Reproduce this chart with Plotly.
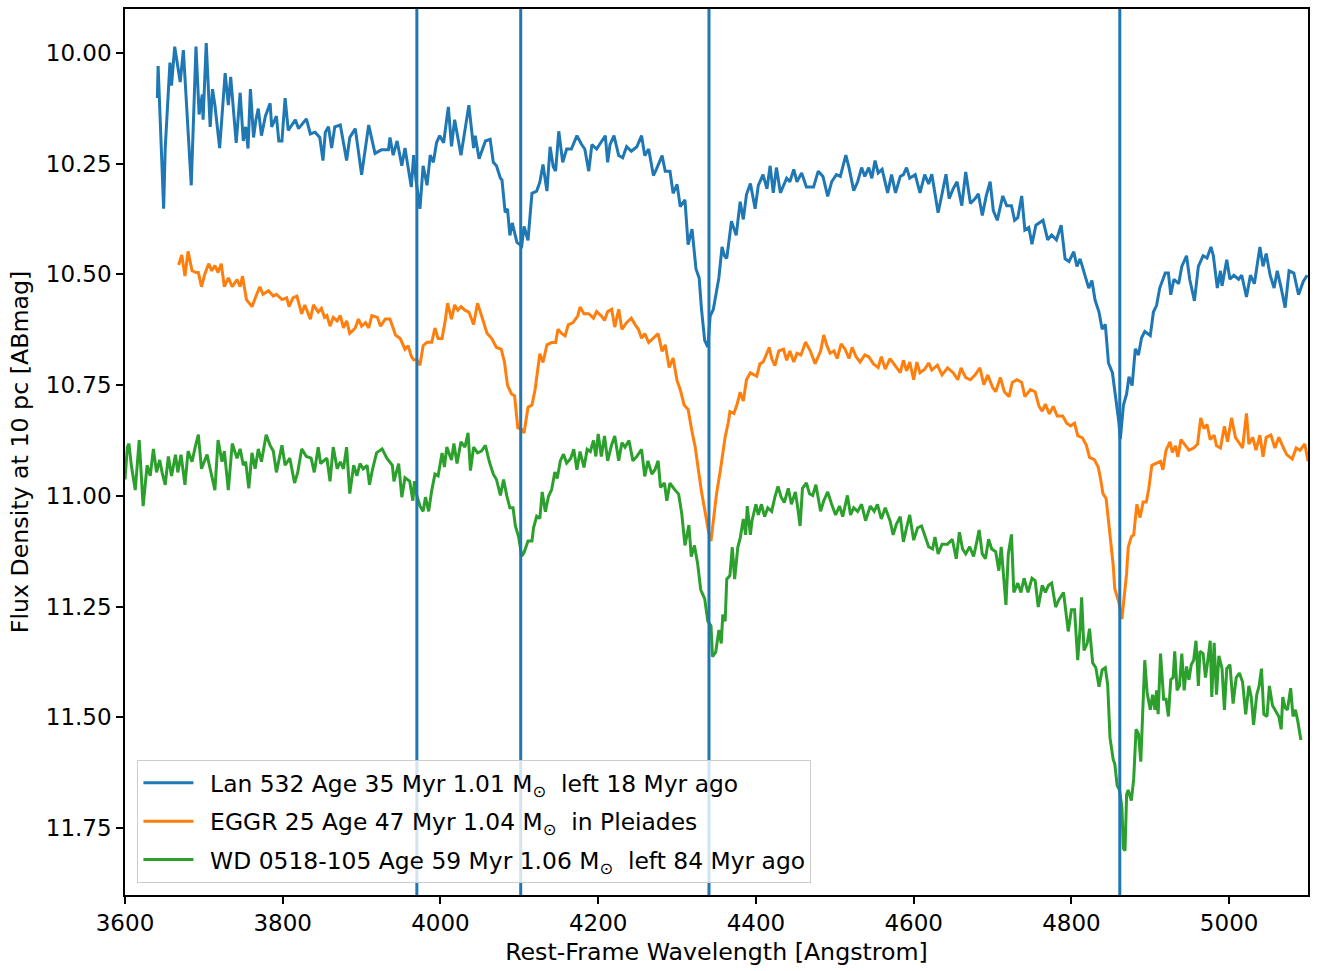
import plotly.graph_objects as go

# ---- data ----
lan532_wave = [3641,3642,3649,3651,3657,3659,3663,3670,3674,3684,3690,3694,3698,3699,3703,3708,3711,3714,3720,3727,
 3731,3734,3741,3746,3750,3753,3756,3759,3763,3766,3769,3773,3778,3784,3786,3792,3795,3799,3803,3807,
 3816,3820,3830,3835,3841,3847,3851,3854,3858,3862,3866,3873,3881,3885,3892,3900,3909,3917,3925,3934,
 3936,3940,3945,3951,3955,3959,3963,3966,3969,3974,3978,3983,3987,3991,3995,3999,4004,4010,4014,4018,
 4026,4031,4036,4042,4044,4049,4057,4063,4067,4071,4076,4078,4082,4085,4088,4091,4097,4103,4106,4111,
 4116,4122,4126,4130,4135,4139,4143,4146,4150,4155,4160,4166,4173,4179,4183,4188,4192,4198,4202,4209,
 4212,4215,4220,4226,4231,4236,4242,4249,4255,4259,4264,4270,4274,4281,4285,4291,4295,4300,4304,4310,
 4314,4319,4324,4328,4331,4335,4339,4342,4346,4350,4353,4357,4360,4363,4369,4375,4380,4384,4388,4393,
 4399,4403,4409,4414,4418,4422,4426,4431,4439,4443,4448,4452,4458,4464,4473,4479,4485,4491,4496,4502,
 4507,4514,4518,4524,4529,4534,4538,4543,4547,4551,4555,4560,4567,4572,4577,4583,4587,4591,4595,4602,
 4608,4614,4619,4623,4631,4636,4641,4645,4650,4655,4661,4666,4672,4678,4682,4687,4692,4697,4701,4706,
 4713,4718,4724,4728,4732,4737,4741,4746,4750,4755,4760,4764,4770,4775,4781,4787,4792,4797,4803,4807,
 4811,4817,4822,4826,4830,4835,4839,4843,4847,4852,4856,4860,4862,4866,4870,4873,4877,4881,4885,4889,
 4893,4900,4904,4908,4912,4919,4923,4926,4930,4936,4940,4946,4950,4956,4961,4967,4972,4977,4980,4985,
 4989,4991,4997,5001,5006,5012,5016,5022,5027,5032,5039,5043,5047,5052,5057,5061,5066,5071,5076,5082,
 5088,5094,5099]
lan532_mag = [10.102,10.030,10.352,10.215,10.022,10.074,9.986,10.066,9.994,10.299,9.986,10.139,10.094,10.151,9.978,10.167,10.082,10.118,10.215,10.046,
 10.118,10.054,10.203,10.090,10.199,10.167,10.216,10.082,10.191,10.151,10.126,10.187,10.143,10.114,10.167,10.143,10.199,10.199,10.102,10.175,
 10.151,10.171,10.149,10.183,10.179,10.191,10.243,10.179,10.167,10.215,10.167,10.163,10.243,10.191,10.171,10.275,10.163,10.227,10.219,10.219,
 10.191,10.231,10.199,10.255,10.215,10.255,10.303,10.231,10.287,10.352,10.255,10.299,10.231,10.247,10.203,10.187,10.203,10.122,10.211,10.151,
 10.231,10.175,10.118,10.215,10.187,10.239,10.199,10.195,10.247,10.255,10.283,10.287,10.360,10.352,10.412,10.384,10.428,10.436,10.392,10.423,
 10.317,10.312,10.292,10.252,10.312,10.212,10.257,10.267,10.177,10.247,10.217,10.217,10.187,10.207,10.217,10.267,10.207,10.217,10.207,10.187,
 10.247,10.207,10.187,10.232,10.237,10.212,10.222,10.212,10.187,10.232,10.217,10.277,10.262,10.232,10.267,10.267,10.317,10.297,10.347,10.332,
 10.433,10.398,10.488,10.508,10.579,10.649,10.664,10.594,10.579,10.539,10.508,10.438,10.458,10.464,10.380,10.412,10.336,10.376,10.320,10.295,
 10.352,10.299,10.275,10.307,10.255,10.316,10.259,10.316,10.283,10.291,10.263,10.291,10.271,10.303,10.303,10.267,10.279,10.324,10.291,10.275,
 10.279,10.231,10.259,10.311,10.291,10.259,10.279,10.259,10.283,10.243,10.271,10.263,10.316,10.275,10.316,10.279,10.275,10.259,10.283,10.275,
 10.316,10.275,10.296,10.274,10.361,10.318,10.274,10.329,10.307,10.291,10.345,10.269,10.340,10.329,10.318,10.367,10.323,10.291,10.356,10.378,
 10.323,10.345,10.345,10.378,10.372,10.323,10.400,10.394,10.432,10.389,10.383,10.378,10.422,10.411,10.422,10.389,10.465,10.471,10.449,10.482,
 10.465,10.503,10.531,10.514,10.558,10.585,10.624,10.613,10.700,10.722,10.776,10.831,10.872,10.795,10.770,10.731,10.751,10.668,10.682,10.643,
 10.629,10.638,10.585,10.570,10.531,10.497,10.497,10.546,10.511,10.521,10.482,10.458,10.511,10.560,10.482,10.458,10.463,10.438,10.458,10.531,
 10.492,10.526,10.467,10.511,10.502,10.511,10.502,10.551,10.502,10.521,10.438,10.482,10.453,10.502,10.531,10.492,10.531,10.575,10.492,10.497,
 10.546,10.516,10.502]

eggr25_wave = [3668,3672,3676,3680,3685,3690,3693,3697,3701,3706,3710,3714,3718,3722,3726,3731,3736,3742,3746,3749,
 3754,3761,3767,3771,3775,3782,3788,3792,3799,3805,3808,3813,3818,3824,3828,3835,3839,3845,3849,3853,
 3856,3860,3864,3869,3873,3877,3881,3885,3892,3896,3900,3905,3909,3913,3920,3924,3930,3936,3943,3949,
 3955,3959,3963,3966,3970,3974,3978,3983,3989,3993,3997,4002,4006,4009,4014,4018,4022,4026,4031,4036,
 4042,4047,4052,4059,4065,4071,4077,4081,4085,4090,4094,4098,4103,4106,4111,4116,4120,4124,4126,4130,
 4135,4141,4146,4149,4154,4158,4162,4168,4174,4177,4182,4188,4194,4198,4204,4208,4212,4217,4221,4226,
 4230,4236,4242,4247,4251,4255,4259,4264,4270,4276,4281,4285,4290,4295,4300,4304,4309,4314,4319,4323,
 4327,4331,4336,4340,4343,4346,4350,4355,4358,4361,4365,4367,4372,4376,4380,4384,4388,4393,4397,4401,
 4405,4409,4412,4417,4420,4424,4429,4435,4439,4443,4448,4452,4457,4463,4469,4475,4482,4486,4490,4494,
 4499,4503,4508,4513,4518,4522,4527,4532,4538,4543,4549,4555,4559,4564,4570,4576,4583,4587,4591,4595,
 4600,4604,4608,4614,4619,4623,4630,4636,4643,4650,4656,4660,4666,4672,4678,4684,4689,4694,4700,4704,
 4710,4715,4721,4725,4731,4737,4741,4748,4754,4759,4763,4767,4772,4777,4782,4789,4794,4799,4804,4808,
 4814,4819,4823,4829,4834,4837,4840,4844,4849,4853,4855,4860,4864,4867,4870,4872,4876,4879,4881,4883,
 4887,4891,4895,4898,4902,4909,4913,4916,4920,4925,4928,4932,4935,4939,4945,4949,4955,4960,4964,4968,
 4972,4976,4981,4984,4989,4994,4998,5003,5008,5013,5017,5022,5025,5030,5034,5039,5043,5047,5053,5058,
 5063,5069,5073,5080,5085,5090,5096,5100]
eggr25_mag = [10.479,10.456,10.504,10.448,10.492,10.496,10.496,10.528,10.500,10.476,10.492,10.480,10.496,10.476,10.528,10.508,10.528,10.512,10.528,10.504,
 10.557,10.573,10.545,10.528,10.545,10.537,10.549,10.545,10.557,10.553,10.573,10.553,10.549,10.589,10.569,10.601,10.569,10.585,10.577,10.597,
 10.593,10.617,10.597,10.605,10.593,10.621,10.605,10.633,10.621,10.601,10.617,10.609,10.621,10.593,10.597,10.617,10.601,10.601,10.637,10.645,
 10.669,10.661,10.685,10.693,10.693,10.705,10.661,10.653,10.653,10.621,10.645,10.645,10.605,10.565,10.601,10.569,10.581,10.573,10.581,10.585,
 10.613,10.565,10.593,10.633,10.645,10.665,10.669,10.697,10.750,10.770,10.774,10.846,10.850,10.858,10.800,10.795,10.760,10.699,10.679,10.699,
 10.659,10.654,10.654,10.624,10.634,10.639,10.614,10.609,10.594,10.574,10.589,10.589,10.599,10.584,10.594,10.604,10.584,10.579,10.619,10.579,
 10.624,10.609,10.599,10.614,10.624,10.644,10.634,10.654,10.644,10.634,10.674,10.659,10.710,10.689,10.740,10.760,10.795,10.805,10.855,10.890,
 10.941,10.991,11.041,11.082,11.102,11.051,10.996,10.941,10.900,10.867,10.834,10.810,10.814,10.794,10.766,10.786,10.738,10.722,10.726,10.730,
 10.702,10.698,10.686,10.665,10.690,10.706,10.673,10.669,10.694,10.673,10.698,10.678,10.682,10.653,10.673,10.702,10.673,10.637,10.661,10.678,
 10.673,10.690,10.657,10.669,10.690,10.665,10.686,10.698,10.682,10.686,10.702,10.710,10.686,10.714,10.690,10.706,10.722,10.694,10.718,10.698,
 10.738,10.698,10.722,10.714,10.700,10.716,10.705,10.727,10.711,10.722,10.738,10.711,10.733,10.738,10.727,10.711,10.749,10.727,10.755,10.765,
 10.733,10.765,10.776,10.744,10.738,10.744,10.776,10.760,10.765,10.798,10.809,10.793,10.815,10.798,10.820,10.820,10.836,10.842,10.836,10.864,
 10.869,10.886,10.913,10.918,10.935,10.962,10.995,11.006,11.097,11.156,11.210,11.239,11.278,11.224,11.175,11.117,11.092,11.088,11.049,11.019,
 11.049,11.014,11.014,10.985,10.931,10.926,10.922,10.941,10.897,10.878,10.902,10.887,10.912,10.873,10.887,10.897,10.892,10.883,10.824,10.848,
 10.839,10.873,10.863,10.887,10.892,10.843,10.878,10.824,10.868,10.883,10.892,10.814,10.883,10.868,10.897,10.863,10.912,10.868,10.863,10.892,
 10.868,10.892,10.907,10.917,10.892,10.897,10.883,10.922]

wd0518_wave = [3600,3603,3605,3608,3613,3618,3623,3628,3632,3636,3640,3644,3647,3651,3655,3659,3664,3667,3671,3676,
 3680,3685,3689,3693,3697,3704,3708,3714,3718,3723,3726,3731,3736,3742,3746,3750,3753,3757,3761,3765,
 3769,3773,3779,3784,3788,3792,3799,3803,3809,3815,3819,3824,3830,3836,3840,3845,3848,3856,3860,3864,
 3869,3873,3877,3881,3885,3890,3894,3898,3902,3907,3910,3914,3919,3926,3932,3939,3941,3947,3951,3955,
 3961,3965,3967,3970,3974,3978,3981,3985,3989,3993,3997,4002,4005,4008,4014,4017,4021,4026,4031,4035,
 4038,4042,4047,4052,4057,4062,4067,4071,4076,4080,4084,4088,4092,4095,4099,4103,4106,4111,4116,4118,
 4122,4126,4129,4133,4137,4141,4145,4148,4152,4156,4160,4165,4169,4173,4177,4182,4186,4190,4194,4197,
 4200,4204,4208,4212,4217,4221,4226,4230,4234,4239,4244,4249,4255,4259,4263,4268,4272,4276,4279,4284,
 4287,4291,4297,4302,4306,4310,4315,4318,4322,4326,4330,4335,4339,4343,4345,4349,4353,4356,4358,4361,
 4363,4367,4370,4373,4377,4380,4384,4387,4389,4393,4395,4400,4403,4407,4411,4415,4420,4424,4428,4432,
 4436,4441,4445,4450,4453,4456,4459,4464,4468,4472,4476,4482,4486,4491,4496,4501,4506,4510,4516,4520,
 4524,4529,4534,4539,4545,4550,4554,4559,4564,4570,4574,4578,4583,4587,4591,4595,4600,4605,4610,4614,
 4619,4624,4627,4631,4636,4643,4649,4654,4658,4662,4666,4671,4676,4680,4683,4687,4691,4695,4699,4704,
 4708,4711,4714,4717,4720,4724,4727,4732,4736,4740,4745,4750,4754,4758,4763,4767,4771,4775,4780,4784,
 4790,4796,4800,4804,4808,4811,4813,4816,4820,4823,4827,4831,4835,4839,4843,4846,4849,4853,4855,4858,
 4861,4864,4866,4868,4870,4872,4876,4879,4882,4885,4888,4891,4893,4896,4900,4903,4906,4908,4910,4913,
 4917,4920,4923,4926,4929,4931,4934,4937,4940,4943,4946,4949,4952,4955,4958,4961,4963,4967,4970,4973,
 4976,4978,4981,4984,4987,4991,4994,4997,5001,5005,5009,5013,5017,5021,5025,5028,5031,5035,5038,5041,
 5044,5048,5051,5055,5058,5063,5066,5068,5071,5074,5078,5081,5084,5087,5091]
wd0518_mag = [10.963,10.890,10.882,10.931,10.987,10.874,11.023,10.931,10.955,10.894,10.947,10.919,10.947,10.975,10.911,10.955,10.907,10.947,10.907,10.975,
 10.899,10.923,10.890,10.862,10.939,10.907,10.939,10.987,10.874,10.923,10.899,10.987,10.882,10.915,10.894,10.931,10.923,10.983,10.903,10.939,
 10.894,10.923,10.862,10.886,10.899,10.947,10.886,10.931,10.915,10.971,10.947,10.894,10.911,10.915,10.947,10.890,10.927,10.915,10.967,10.890,
 10.939,10.923,10.939,10.890,10.995,10.931,10.955,10.927,10.939,10.931,10.975,10.939,10.903,10.894,10.915,10.931,10.967,10.927,11.003,10.959,
 10.967,11.011,10.967,10.999,11.023,11.035,11.003,11.035,10.987,10.951,10.955,10.903,10.935,10.890,10.919,10.882,10.927,10.878,10.890,10.858,
 10.943,10.890,10.903,10.899,10.886,10.923,10.951,10.963,10.999,10.963,10.999,11.027,11.027,11.068,11.092,11.136,11.128,11.102,11.102,11.072,
 11.046,11.051,10.991,11.036,11.001,10.986,10.946,10.961,10.921,10.906,10.926,10.916,10.895,10.941,10.900,10.936,10.895,10.900,10.875,10.911,
 10.860,10.911,10.865,10.921,10.885,10.865,10.921,10.880,10.890,10.875,10.921,10.911,10.895,10.956,10.921,10.951,10.941,10.921,10.981,10.971,
 11.011,10.971,10.986,10.996,11.041,11.112,11.066,11.137,11.112,11.152,11.212,11.232,11.283,11.293,11.363,11.353,11.303,11.333,11.268,11.283,
 11.188,11.180,11.116,11.188,11.116,11.096,11.052,11.088,11.023,11.088,11.056,11.019,11.043,11.019,11.047,11.027,11.035,11.003,10.979,11.003,
 11.015,10.983,11.019,10.991,11.027,11.068,10.983,10.971,10.995,10.999,10.975,11.035,11.011,10.991,11.019,11.043,11.023,11.047,10.999,11.043,
 11.027,11.035,11.019,11.056,11.023,11.035,11.019,11.052,11.027,11.056,11.088,11.064,11.047,11.104,11.072,11.043,11.100,11.072,11.068,11.090,
 11.115,11.120,11.093,11.131,11.109,11.109,11.098,11.142,11.082,11.120,11.131,11.115,11.137,11.104,11.077,11.131,11.142,11.098,11.120,11.126,
 11.169,11.115,11.191,11.246,11.131,11.087,11.218,11.197,11.218,11.186,11.218,11.186,11.191,11.251,11.202,11.218,11.202,11.197,11.251,11.235,
 11.218,11.306,11.257,11.257,11.371,11.300,11.229,11.349,11.333,11.300,11.377,11.388,11.431,11.393,11.388,11.426,11.547,11.595,11.605,11.654,
 11.664,11.703,11.796,11.801,11.674,11.664,11.688,11.639,11.527,11.537,11.600,11.478,11.371,11.444,11.483,11.449,11.483,11.439,11.493,11.356,
 11.459,11.459,11.498,11.415,11.410,11.351,11.439,11.429,11.356,11.439,11.385,11.415,11.381,11.371,11.327,11.429,11.351,11.356,11.410,11.371,
 11.327,11.454,11.332,11.449,11.361,11.390,11.483,11.390,11.381,11.469,11.410,11.400,11.420,11.493,11.429,11.454,11.517,11.449,11.429,11.390,
 11.493,11.498,11.429,11.473,11.483,11.498,11.527,11.454,11.478,11.483,11.434,11.498,11.483,11.508,11.551]

balmer_lines = [3970.07, 4101.74, 4340.47, 4861.35]

series_names = [
    "\u2002Lan 532 Age 35 Myr 1.01 M<sub>⊙</sub>  left 18 Myr ago",
    "\u2002EGGR 25 Age 47 Myr 1.04 M<sub>⊙</sub>  in Pleiades",
    "\u2002WD 0518-105 Age 59 Myr 1.06 M<sub>⊙</sub>  left 84 Myr ago",
]
series_colors = ["#1f77b4", "#ff7f0e", "#2ca02c"]
y_ticks = [10.00, 10.25, 10.50, 10.75, 11.00, 11.25, 11.50, 11.75]
x_ticks = [3600, 3800, 4000, 4200, 4400, 4600, 4800, 5000]

# ---- figure ----
fig = go.Figure()
for i, (wave, mag, name, color) in enumerate(zip(
        [lan532_wave, eggr25_wave, wd0518_wave],
        [lan532_mag, eggr25_mag, wd0518_mag],
        series_names, series_colors)):
    fig.add_trace(go.Scatter(x=wave, y=mag, mode="lines", name=name, legendgroup=f"g{i}",
                             line=dict(color=color, width=3)))

for lam in balmer_lines:
    fig.add_shape(type="line", x0=lam, x1=lam, y0=0, y1=1, xref="x", yref="paper",
                  line=dict(color="#1f77b4", width=3), layer="above")

title_font = dict(family="DejaVu Sans", size=23.7, color="black")
tick_font = dict(family="DejaVu Sans", size=23, color="black")
fig.update_layout(
    width=1322, height=971,
    margin=dict(l=125, r=14, t=7, b=76),
    paper_bgcolor="white", plot_bgcolor="white",
    font=dict(family="DejaVu Sans", size=20, color="black"),
    showlegend=True,
    legend=dict(x=0.0105, y=0.0135, xanchor="left", yanchor="bottom",
                bgcolor="rgba(255,255,255,0.8)", bordercolor="#cccccc", borderwidth=1,
                font=dict(family="DejaVu Sans", size=23.4, color="black"),
                tracegroupgap=5, itemwidth=50),
)
fig.update_xaxes(range=[3600, 5100], tickvals=x_ticks, ticks="outside", ticklen=7, tickwidth=1.5,
                 tickcolor="black", showline=True, mirror=True, linecolor="black", linewidth=1.5,
                 showgrid=False, zeroline=False,
                 title=dict(text="Rest-Frame Wavelength [Angstrom]", standoff=8, font=title_font),
                 tickfont=tick_font)
fig.update_yaxes(range=[11.901, 9.901], tickvals=y_ticks, tickformat=".2f", ticks="outside", ticklen=7,
                 tickwidth=1.5, tickcolor="black", showline=True, mirror=True, linecolor="black", linewidth=1.5,
                 showgrid=False, zeroline=False,
                 title=dict(text="Flux Density at 10 pc [ABmag]", standoff=10, font=title_font),
                 tickfont=tick_font)

fig.write_html("out.html")
